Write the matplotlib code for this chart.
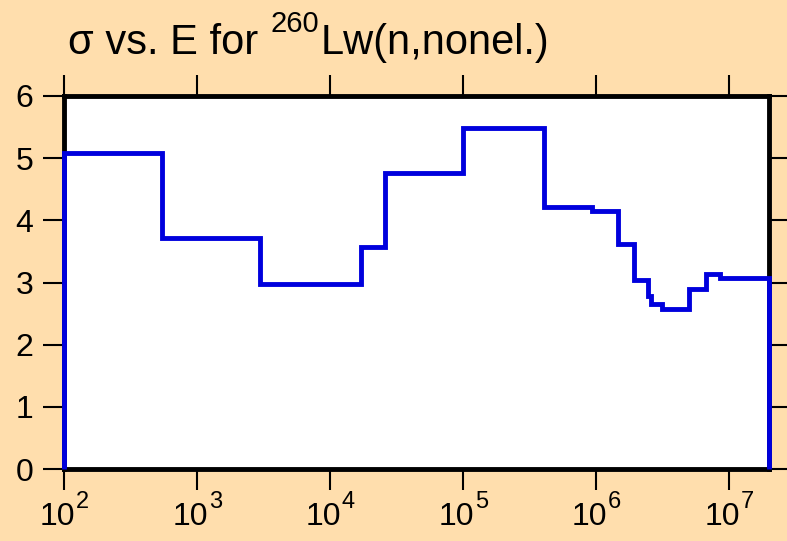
import numpy as np
import matplotlib.pyplot as plt

# group boundaries (eV) and cross sections (b)
energy_edges = [1e2, 5.5e2, 3.0e3, 1.7e4, 2.6e4, 1.0e5, 4.1e5, 9.4e5, 1.47e6,
                1.94e6, 2.47e6, 2.6e6, 3.16e6, 5.0e6, 6.7e6, 8.6e6, 2.0e7]
sigma = [5.08, 3.72, 2.97, 3.57, 4.76, 5.49, 4.21, 4.15, 3.62,
         3.04, 2.78, 2.65, 2.58, 2.89, 3.13, 3.07]
y_ticks = [0, 1, 2, 3, 4, 5, 6]
x_ticks = [1e2, 1e3, 1e4, 1e5, 1e6, 1e7]

plt.rcParams['font.family'] = ['Liberation Sans', 'DejaVu Sans']

bg = '#FFDEAD'
fig = plt.figure(figsize=(7.87, 5.41), dpi=100, facecolor=bg)
ax = fig.add_axes([0.0813, 0.133, 0.8957, 0.6896])
ax.set_facecolor('white')

ax.stairs(sigma, energy_edges, baseline=0, color='#0000DD', linewidth=3.5,
          zorder=5, clip_on=False)

ax.set_xscale('log')
ax.set_xlim(1e2, 2e7)
ax.set_ylim(0, 6)
ax.set_xticks(x_ticks)
ax.xaxis.set_minor_locator(plt.NullLocator())
ax.set_yticks(y_ticks)
ax.set_yticklabels([str(v) for v in y_ticks])

for s in ax.spines.values():
    s.set_linewidth(3.5)
ax.tick_params(axis='both', which='major', direction='out', length=15, width=1.5,
               labelsize=23, top=True, right=True, pad=7, labelbottom=False)

# decade labels: "10" with a large raised exponent
for v in x_ticks:
    base = ax.annotate('10', xy=(v, 0), xycoords=('data', 'axes fraction'),
                       xytext=(11, -56), textcoords='offset pixels',
                       ha='right', va='baseline', fontsize=23, annotation_clip=False)
    ax.annotate(str(int(round(np.log10(v)))), xy=(1, 0), xycoords=(base, 'axes fraction'),
                xytext=(1, -39), textcoords='offset pixels',
                ha='left', va='baseline', fontsize=17, annotation_clip=False)

# title built from pieces so the mass number sits as a superscript
t1 = fig.text(68 / 787, 1 - 54 / 541, 'σ vs. E for', fontsize=30, va='baseline')
t2 = fig.add_artist(plt.Annotation('260', xy=(1, 541 - 32), xycoords=(t1, 'figure pixels'),
                                   xytext=(12, 0), textcoords='offset pixels',
                                   ha='left', va='baseline', fontsize=21))
fig.add_artist(plt.Annotation('Lw(n,nonel.)', xy=(1, 541 - 54), xycoords=(t2, 'figure pixels'),
                              xytext=(2, 0), textcoords='offset pixels',
                              ha='left', va='baseline', fontsize=30))

fig.savefig('out.png', dpi=100, facecolor=bg)
